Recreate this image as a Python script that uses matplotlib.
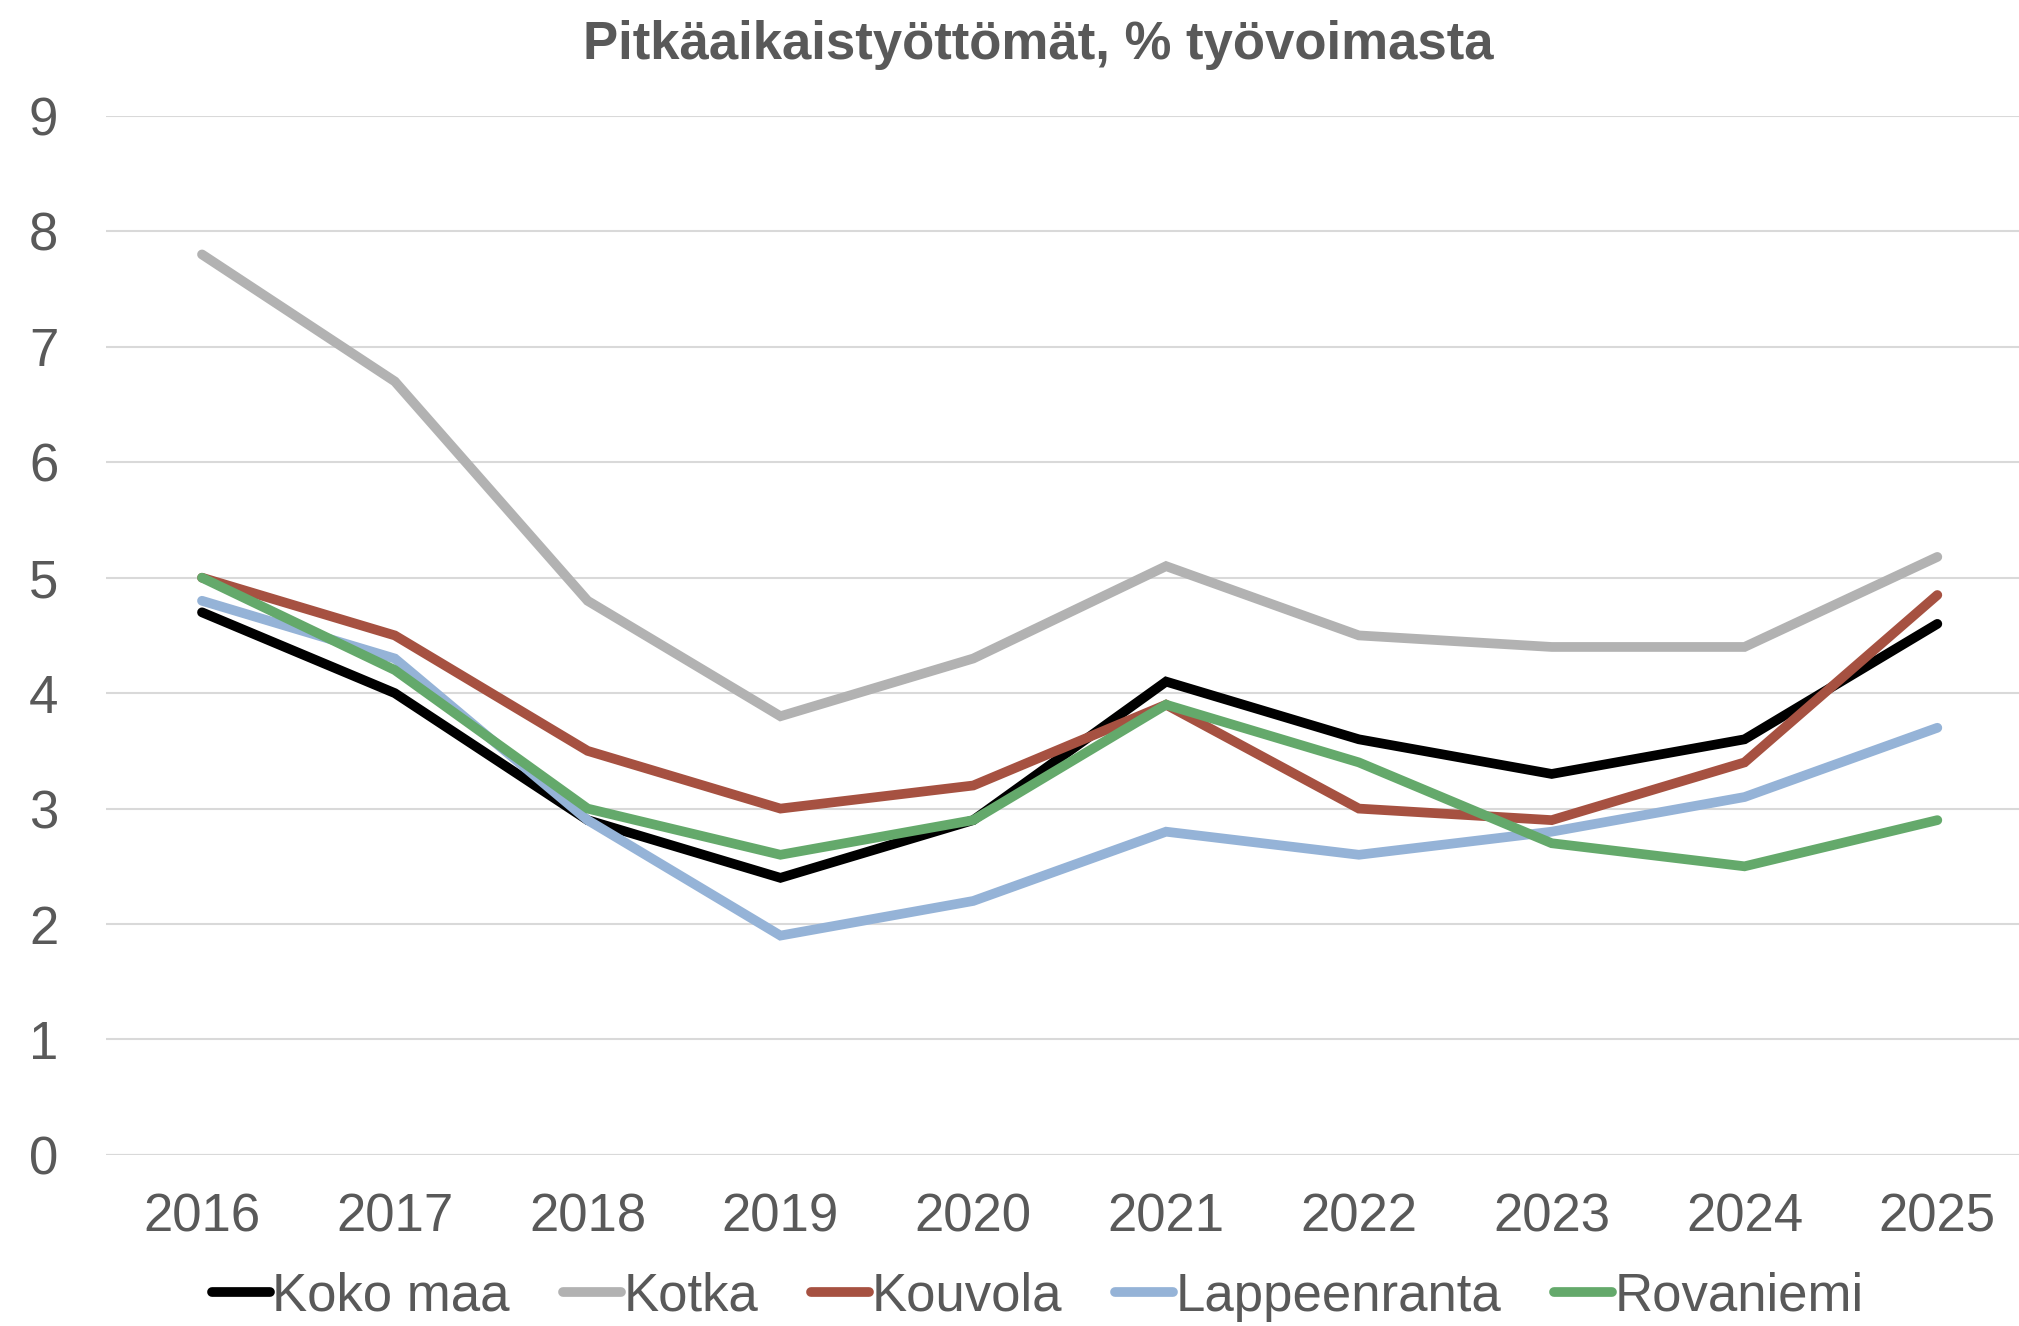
import matplotlib.pyplot as plt
import numpy as np

plt.rcParams['font.family'] = ['Liberation Sans', 'DejaVu Sans']

years = ['2016', '2017', '2018', '2019', '2020', '2021', '2022', '2023', '2024', '2025']
kokoMaa = [4.7, 4.0, 2.9, 2.4, 2.9, 4.1, 3.6, 3.3, 3.6, 4.6]
kotka = [7.8, 6.7, 4.8, 3.8, 4.3, 5.1, 4.5, 4.4, 4.4, 5.18]
kouvola = [5.0, 4.5, 3.5, 3.0, 3.2, 3.9, 3.0, 2.9, 3.4, 4.85]
lappeenranta = [4.8, 4.3, 2.9, 1.9, 2.2, 2.8, 2.6, 2.8, 3.1, 3.7]
rovaniemi = [5.0, 4.2, 3.0, 2.6, 2.9, 3.9, 3.4, 2.7, 2.5, 2.9]

names = ['Koko maa', 'Kotka', 'Kouvola', 'Lappeenranta', 'Rovaniemi']
colors = ['#000000', '#B2B2B2', '#A65141', '#95B3D7', '#64A96B']
txtColor = '#595959'

fig = plt.figure(figsize=(20.19, 13.26), dpi=100)
ax = fig.add_axes([0.0523, 0.129, 0.955, 0.7836])

x = np.arange(len(years))
for vals, name, col in zip([kokoMaa, kotka, kouvola, lappeenranta, rovaniemi], names, colors):
    ax.plot(x, vals, color=col, lw=7, label=name, solid_capstyle='round', solid_joinstyle='miter')

ax.set_xlim(-0.5, len(years) - 0.5)
ax.set_ylim(0, 9)
ax.set_yticks(range(10))
ax.set_xticks(x)
ax.set_xticklabels(years)
ax.tick_params(axis='both', length=0, labelsize=38, labelcolor=txtColor)
ax.tick_params(axis='x', pad=27)
ax.tick_params(axis='y', pad=34)
ax.grid(axis='y', color='#D9D9D9', lw=1.5)
ax.set_axisbelow(True)
for s in ax.spines.values():
    s.set_visible(False)
ax.axhline(0, color='#D9D9D9', lw=1.5, zorder=0.5)

fig.text(0.514, 0.966, 'Pitkäaikaistyöttömät, % työvoimasta', ha='center', va='center',
         fontsize=38, fontweight='bold', color=txtColor)

leg = fig.legend(loc='center', bbox_to_anchor=(0.514, 0.022), ncol=5, frameon=False,
                 fontsize=38, handlelength=1.1, handletextpad=0.05, columnspacing=1.0)
for t in leg.get_texts():
    t.set_color(txtColor)
for h in leg.get_lines():
    h.set_linewidth(7)

fig.savefig('out.png', dpi=100)
